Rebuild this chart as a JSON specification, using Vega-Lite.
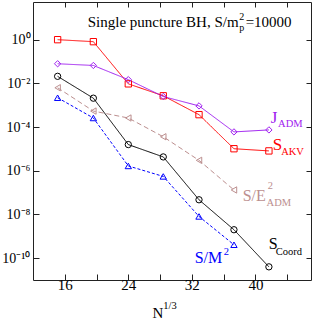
{
  "$schema": "https://vega.github.io/schema/vega-lite/v6.json",
  "width": 278,
  "height": 278,
  "autosize": {"type": "none"},
  "padding": {"left": 33, "top": 2, "right": 2, "bottom": 40},
  "background": "white",
  "config": {
    "view": {"stroke": "#222222", "strokeWidth": 1},
    "text": {"font": "Liberation Serif", "baseline": "alphabetic", "align": "left"},
    "axis": {"grid": false, "domain": false, "tickColor": "#222222", "labelFont": "Liberation Serif", "labelColor": "#000000"}
  },
  "datasets": {
    "series": [
      {"s": "AKV", "x": 15.1, "y": 1.0},
      {"s": "AKV", "x": 19.6, "y": 0.81},
      {"s": "AKV", "x": 24.0, "y": 0.0095},
      {"s": "AKV", "x": 28.4, "y": 0.0027},
      {"s": "AKV", "x": 32.9, "y": 0.00037},
      {"s": "AKV", "x": 37.3, "y": 0.0000102},
      {"s": "AKV", "x": 41.7, "y": 0.0000081},
      {"s": "JADM", "x": 15.1, "y": 0.079},
      {"s": "JADM", "x": 19.6, "y": 0.066},
      {"s": "JADM", "x": 24.0, "y": 0.0148},
      {"s": "JADM", "x": 28.4, "y": 0.0025},
      {"s": "JADM", "x": 32.9, "y": 0.00093},
      {"s": "JADM", "x": 37.3, "y": 0.00006},
      {"s": "JADM", "x": 41.7, "y": 0.000074},
      {"s": "Coord", "x": 15.1, "y": 0.021},
      {"s": "Coord", "x": 19.6, "y": 0.0021},
      {"s": "Coord", "x": 24.0, "y": 0.0000158},
      {"s": "Coord", "x": 28.4, "y": 0.0000043},
      {"s": "Coord", "x": 32.9, "y": 4.7e-8},
      {"s": "Coord", "x": 37.3, "y": 2.0e-9},
      {"s": "Coord", "x": 41.7, "y": 4.0e-11},
      {"s": "E2", "x": 15.1, "y": 0.0063},
      {"s": "E2", "x": 19.6, "y": 0.00054},
      {"s": "E2", "x": 24.0, "y": 0.00026},
      {"s": "E2", "x": 28.4, "y": 0.000036},
      {"s": "E2", "x": 32.9, "y": 0.000003},
      {"s": "E2", "x": 37.3, "y": 1.32e-7},
      {"s": "M2", "x": 15.1, "y": 0.0022},
      {"s": "M2", "x": 19.6, "y": 0.00026},
      {"s": "M2", "x": 24.0, "y": 0.00000166},
      {"s": "M2", "x": 28.4, "y": 5.5e-7},
      {"s": "M2", "x": 32.9, "y": 8.1e-9},
      {"s": "M2", "x": 37.3, "y": 4.1e-10}
    ]
  },
  "resolve": {"axis": {"x": "independent", "y": "independent"}},
  "layer": [
    {
      "data": {"name": "series"},
      "mark": {"type": "line", "strokeWidth": 1},
      "encoding": {
        "x": {"field": "x", "type": "quantitative", "scale": {"domain": [12, 47], "nice": false, "zero": false},
              "axis": {"orient": "bottom", "values": [16, 20, 24, 28, 32, 36, 40, 44], "labelExpr": "datum.value % 8 == 0 ? datum.label : ''", "tickSize": -6, "labelPadding": 3, "labelFontSize": 15, "title": null}},
        "y": {"field": "y", "type": "quantitative", "scale": {"type": "log", "domain": [1e-11, 53], "nice": false},
              "axis": {"orient": "left", "values": [1, 0.01, 0.0001, 0.000001, 1e-8, 1e-10], "tickSize": -6, "labelPadding": 9, "labelFontSize": 14, "title": null,
                       "labelExpr": "'10' + replace(replace(replace(replace(replace(replace(replace('' + round(log(datum.value)/LN10), '-', '⁻'), '0', '⁰'), '1', '¹'), '2', '²'), '4', '⁴'), '6', '⁶'), '8', '⁸')"}},
        "color": {"field": "s", "type": "nominal", "legend": null,
                  "scale": {"domain": ["AKV", "JADM", "Coord", "E2", "M2"], "range": ["#ff0000", "#a020f0", "#000000", "#bc8f8f", "#0000ff"]}},
        "strokeDash": {"field": "s", "type": "nominal", "legend": null,
                  "scale": {"domain": ["AKV", "JADM", "Coord", "E2", "M2"], "range": [[1, 0], [1, 0], [1, 0], [5, 3], [3, 2]]}}
      }
    },
    {
      "data": {"name": "series"},
      "mark": {"type": "point", "filled": false, "size": 40, "strokeWidth": 1, "opacity": 1},
      "encoding": {
        "x": {"field": "x", "type": "quantitative",
              "axis": {"orient": "top", "values": [16, 20, 24, 28, 32, 36, 40, 44], "labels": false, "tickSize": -5, "title": null}},
        "y": {"field": "y", "type": "quantitative",
              "axis": {"orient": "right", "values": [1, 0.01, 0.0001, 0.000001, 1e-8, 1e-10], "labels": false, "tickSize": -5, "title": null}},
        "color": {"field": "s", "type": "nominal", "legend": null},
        "shape": {"field": "s", "type": "nominal", "legend": null,
                  "scale": {"domain": ["AKV", "JADM", "Coord", "E2", "M2"], "range": ["square", "diamond", "circle", "triangle-left", "triangle-up"]}}
      }
    },
    {"data": {"values": [{"t": "Single puncture BH, S/m"}]}, "mark": {"type": "text", "fontSize": 15, "color": "#000000"},
     "encoding": {"text": {"field": "t"}, "x": {"datum": 18.89, "axis": null}, "y": {"datum": 3.86, "axis": null}}},
    {"data": {"values": [{"t": "p"}]}, "mark": {"type": "text", "fontSize": 10, "color": "#000000"},
     "encoding": {"text": {"field": "t"}, "x": {"datum": 37.96, "axis": null}, "y": {"datum": 2.55, "axis": null}}},
    {"data": {"values": [{"t": "2"}]}, "mark": {"type": "text", "fontSize": 10, "color": "#000000"},
     "encoding": {"text": {"field": "t"}, "x": {"datum": 37.96, "axis": null}, "y": {"datum": 8.0, "axis": null}}},
    {"data": {"values": [{"t": "=10000"}]}, "mark": {"type": "text", "fontSize": 15, "color": "#000000"},
     "encoding": {"text": {"field": "t"}, "x": {"datum": 38.77, "axis": null}, "y": {"datum": 3.86, "axis": null}}},
    {"data": {"values": [{"t": "J"}]}, "mark": {"type": "text", "fontSize": 17, "color": "#a020f0"},
     "encoding": {"text": {"field": "t"}, "x": {"datum": 41.92, "axis": null}, "y": {"datum": 1.61e-4, "axis": null}}},
    {"data": {"values": [{"t": "ADM"}]}, "mark": {"type": "text", "fontSize": 10.5, "color": "#a020f0"},
     "encoding": {"text": {"field": "t"}, "x": {"datum": 42.86, "axis": null}, "y": {"datum": 1.05e-4, "axis": null}}},
    {"data": {"values": [{"t": "S"}]}, "mark": {"type": "text", "fontSize": 17, "color": "#ff0000"},
     "encoding": {"text": {"field": "t"}, "x": {"datum": 42.17, "axis": null}, "y": {"datum": 9.3e-6, "axis": null}}},
    {"data": {"values": [{"t": "AKV"}]}, "mark": {"type": "text", "fontSize": 10.5, "color": "#ff0000"},
     "encoding": {"text": {"field": "t"}, "x": {"datum": 43.24, "axis": null}, "y": {"datum": 5.5e-6, "axis": null}}},
    {"data": {"values": [{"t": "S/E"}]}, "mark": {"type": "text", "fontSize": 16, "color": "#bc8f8f"},
     "encoding": {"text": {"field": "t"}, "x": {"datum": 38.4, "axis": null}, "y": {"datum": 4.26e-8, "axis": null}}},
    {"data": {"values": [{"t": "2"}]}, "mark": {"type": "text", "fontSize": 10.5, "color": "#bc8f8f"},
     "encoding": {"text": {"field": "t"}, "x": {"datum": 41.54, "axis": null}, "y": {"datum": 1.51e-7, "axis": null}}},
    {"data": {"values": [{"t": "ADM"}]}, "mark": {"type": "text", "fontSize": 10.5, "color": "#bc8f8f"},
     "encoding": {"text": {"field": "t"}, "x": {"datum": 41.41, "axis": null}, "y": {"datum": 2.5e-8, "axis": null}}},
    {"data": {"values": [{"t": "S/M"}]}, "mark": {"type": "text", "fontSize": 16, "color": "#0000ff"},
     "encoding": {"text": {"field": "t"}, "x": {"datum": 32.35, "axis": null}, "y": {"datum": 6.3e-11, "axis": null}}},
    {"data": {"values": [{"t": "2"}]}, "mark": {"type": "text", "fontSize": 10.5, "color": "#0000ff"},
     "encoding": {"text": {"field": "t"}, "x": {"datum": 36.0, "axis": null}, "y": {"datum": 1.35e-10, "axis": null}}},
    {"data": {"values": [{"t": "S"}]}, "mark": {"type": "text", "fontSize": 16, "color": "#000000"},
     "encoding": {"text": {"field": "t"}, "x": {"datum": 41.67, "axis": null}, "y": {"datum": 2.67e-10, "axis": null}}},
    {"data": {"values": [{"t": "Coord"}]}, "mark": {"type": "text", "fontSize": 10.5, "color": "#000000"},
     "encoding": {"text": {"field": "t"}, "x": {"datum": 42.55, "axis": null}, "y": {"datum": 1.41e-10, "axis": null}}},
    {"data": {"values": [{"t": "N"}]}, "mark": {"type": "text", "fontSize": 15, "color": "#000000"},
     "encoding": {"text": {"field": "t"}, "x": {"datum": 27.03, "axis": null}, "y": {"datum": 1.83e-13, "axis": null}}},
    {"data": {"values": [{"t": "1/3"}]}, "mark": {"type": "text", "fontSize": 10.5, "color": "#000000"},
     "encoding": {"text": {"field": "t"}, "x": {"datum": 28.4, "axis": null}, "y": {"datum": 4.7e-13, "axis": null}}}
  ]
}
